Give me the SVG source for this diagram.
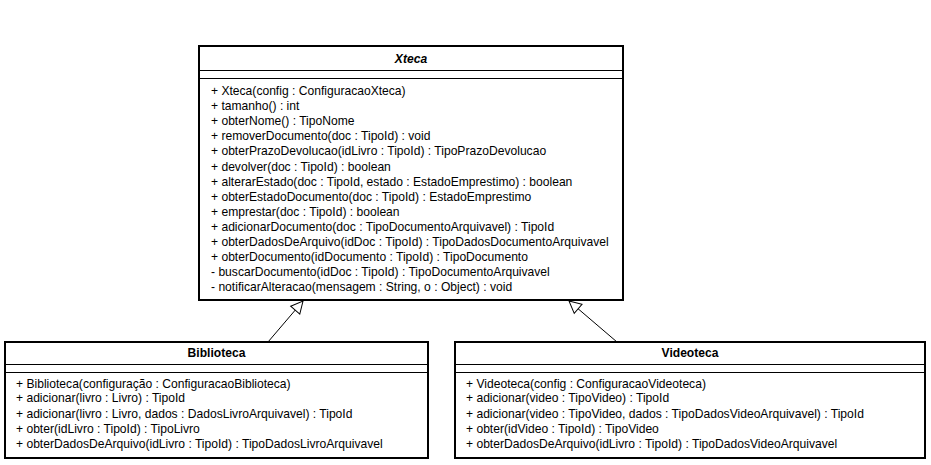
<svg xmlns="http://www.w3.org/2000/svg" width="931" height="465" viewBox="0 0 931 465">
<style>
.box{fill:#fff;stroke:#000;stroke-width:2}
.sep{stroke:#000;stroke-width:1}
.t{font-family:"Liberation Sans",Arial,sans-serif;font-size:12.1px;fill:#000}
.h{font-family:"Liberation Sans",Arial,sans-serif;font-size:12.1px;font-weight:bold;fill:#000;text-anchor:middle}
.edge{stroke:#000;stroke-width:1;fill:none}
</style>
<defs>
<marker id="gen" viewBox="0 0 14 14" refX="13" refY="7" markerWidth="14" markerHeight="14" markerUnits="userSpaceOnUse" orient="auto">
<path d="M1,1 L13,7 L1,13 Z" fill="#fff" stroke="#000" stroke-width="1"/>
</marker>
</defs>
<rect width="931" height="465" fill="#fff"/>
<g id="connectors">
<line class="edge" x1="268" y1="342" x2="303" y2="301" marker-end="url(#gen)"/>
<line class="edge" x1="617" y1="342" x2="569" y2="301" marker-end="url(#gen)"/>
</g>
<g id="Xteca">
<rect class="box" x="199" y="46" width="424" height="254"/>
<line class="sep" x1="199" y1="70.5" x2="623" y2="70.5"/>
<line class="sep" x1="199" y1="78.5" x2="623" y2="78.5"/>
<text class="h" x="411" y="63" font-style="italic">Xteca</text>
<text class="t" x="211" y="95">+ Xteca(config : ConfiguracaoXteca)</text>
<text class="t" x="211" y="110">+ tamanho() : int</text>
<text class="t" x="211" y="125">+ obterNome() : TipoNome</text>
<text class="t" x="211" y="140">+ removerDocumento(doc : TipoId) : void</text>
<text class="t" x="211" y="155">+ obterPrazoDevolucao(idLivro : TipoId) : TipoPrazoDevolucao</text>
<text class="t" x="211" y="171">+ devolver(doc : TipoId) : boolean</text>
<text class="t" x="211" y="186">+ alterarEstado(doc : TipoId, estado : EstadoEmprestimo) : boolean</text>
<text class="t" x="211" y="201">+ obterEstadoDocumento(doc : TipoId) : EstadoEmprestimo</text>
<text class="t" x="211" y="216">+ emprestar(doc : TipoId) : boolean</text>
<text class="t" x="211" y="231">+ adicionarDocumento(doc : TipoDocumentoArquivavel) : TipoId</text>
<text class="t" x="211" y="246">+ obterDadosDeArquivo(idDoc : TipoId) : TipoDadosDocumentoArquivavel</text>
<text class="t" x="211" y="261">+ obterDocumento(idDocumento : TipoId) : TipoDocumento</text>
<text class="t" x="211" y="276">- buscarDocumento(idDoc : TipoId) : TipoDocumentoArquivavel</text>
<text class="t" x="211" y="291">- notificarAlteracao(mensagem : String, o : Object) : void</text>
</g>
<g id="Biblioteca">
<rect class="box" x="5" y="342" width="423" height="116"/>
<line class="sep" x1="5" y1="364.5" x2="428" y2="364.5"/>
<line class="sep" x1="5" y1="372.5" x2="428" y2="372.5"/>
<text class="h" x="216.5" y="357">Biblioteca</text>
<text class="t" x="16" y="388">+ Biblioteca(configuração : ConfiguracaoBiblioteca)</text>
<text class="t" x="16" y="402">+ adicionar(livro : Livro) : TipoId</text>
<text class="t" x="16" y="418">+ adicionar(livro : Livro, dados : DadosLivroArquivavel) : TipoId</text>
<text class="t" x="16" y="433">+ obter(idLivro : TipoId) : TipoLivro</text>
<text class="t" x="16" y="448">+ obterDadosDeArquivo(idLivro : TipoId) : TipoDadosLivroArquivavel</text>
</g>
<g id="Videoteca">
<rect class="box" x="455" y="342" width="470" height="116"/>
<line class="sep" x1="455" y1="364.5" x2="925" y2="364.5"/>
<line class="sep" x1="455" y1="372.5" x2="925" y2="372.5"/>
<text class="h" x="690" y="357">Videoteca</text>
<text class="t" x="466" y="388">+ Videoteca(config : ConfiguracaoVideoteca)</text>
<text class="t" x="466" y="402">+ adicionar(video : TipoVideo) : TipoId</text>
<text class="t" x="466" y="418">+ adicionar(video : TipoVideo, dados : TipoDadosVideoArquivavel) : TipoId</text>
<text class="t" x="466" y="433">+ obter(idVideo : TipoId) : TipoVideo</text>
<text class="t" x="466" y="448">+ obterDadosDeArquivo(idLivro : TipoId) : TipoDadosVideoArquivavel</text>
</g>
</svg>
